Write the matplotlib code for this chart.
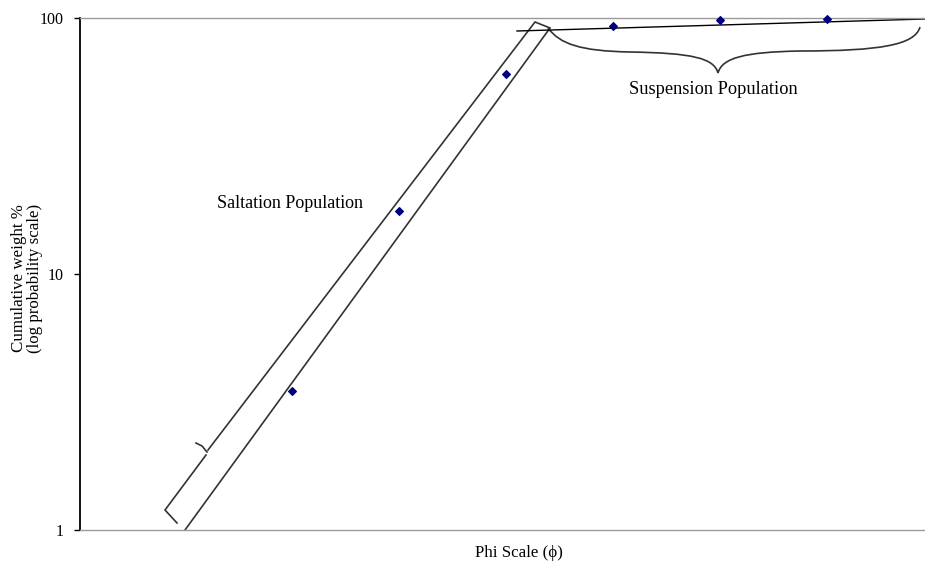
import numpy as np
import matplotlib.pyplot as plt
from matplotlib.path import Path
from matplotlib.patches import PathPatch

plt.rcParams['font.family'] = ['Liberation Serif', 'DejaVu Serif']

# sieve classes (phi) and cumulative weight %
phi = [1, 2, 3, 4, 5, 6]
cum_weight = [3.5, 17.6, 60.4, 93.0, 98.2, 99.1]
y_ticks = [1, 10, 100]

W, H = 925, 565
L, R, T, B = 80, 925, 18, 530

fig = plt.figure(figsize=(W / 100, H / 100), dpi=100)
ax = fig.add_axes([L / W, (H - B) / H, (R - L) / W, (B - T) / H])

ax.scatter(phi, cum_weight, marker='D', s=15, color='#000080', zorder=5,
           clip_on=False)

ax.set_yscale('log')
ax.set_ylim(1, 100)
ax.set_xlim(-0.981, 6.916)
ax.set_yticks(y_ticks)
ax.set_yticklabels([str(v) for v in y_ticks], fontsize=11.5)
ax.minorticks_off()
ax.tick_params(axis='y', direction='out', length=4, width=1, pad=8)
ax.set_xticks([])

for s in ['top', 'bottom']:
    ax.spines[s].set_color('#9a9a9a')
    ax.spines[s].set_linewidth(1)
ax.spines['right'].set_visible(False)
ax.spines['left'].set_color('black')
ax.spines['left'].set_linewidth(1.3)


def fr(px, py):
    # pixel position in the picture -> axes fraction
    return ((px - L) / (R - L), (B - py) / (B - T))


def poly(pts, lw=1.2, color='#333333'):
    xs, ys = zip(*[fr(*p) for p in pts])
    ax.plot(xs, ys, transform=ax.transAxes, color=color, lw=lw, clip_on=False,
            solid_joinstyle='miter')


# saltation envelope
poly([(185, 530), (550, 28), (535, 22), (208, 450)])
poly([(196, 443), (202, 446), (207, 452)])
poly([(206, 455), (165, 510), (177, 523)])

# suspension line
poly([(517, 31), (925, 19)], lw=1.0, color='black')

# brace under suspension population
brace = [(548, 28), (560, 44), (580, 51), (630, 52),
         (692, 53), (714, 58), (718, 73),
         (722, 58), (744, 52), (800, 51),
         (880, 51), (915, 45), (920, 27)]
codes = [Path.MOVETO] + [Path.CURVE4] * 12
ax.add_patch(PathPatch(Path([fr(*p) for p in brace], codes), fill=False,
                       lw=1.2, edgecolor='#333333', transform=ax.transAxes,
                       clip_on=False))

ax.text(*fr(290, 203), 'Saltation Population', transform=ax.transAxes,
        ha='center', va='center', fontsize=13)
ax.text(*fr(713, 89), 'Suspension Population', transform=ax.transAxes,
        ha='center', va='center', fontsize=13.2)

fig.text(519 / W, 1 - 553 / H, 'Phi Scale (\u03d5)', ha='center', va='center',
         fontsize=12.2)
fig.text(27 / W, 1 - 278 / H, 'Cumulative weight %\n(log probability scale)',
         rotation=90, ha='center', va='center', fontsize=12.2, linespacing=1.0)

fig.savefig('out.png', dpi=100)
